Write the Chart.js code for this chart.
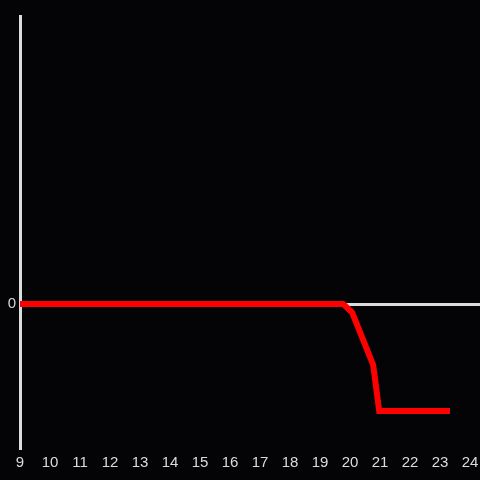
<!DOCTYPE html>
<html>
<head>
<meta charset="utf-8">
<script src="https://cdn.jsdelivr.net/npm/chart.js@4"></script>
<style>
  html, body { margin: 0; padding: 0; background: #040306; }
  #wrap { width: 480px; height: 480px; }
</style>
</head>
<body>
<div id="wrap"><canvas id="chart"></canvas></div>
<script>
// hours of day (x) and value (y)
const hours = [9, 19.77, 20.07, 20.77, 20.97, 23.33];
const values = [0, 0, -0.08, -0.57, -1.0, -1.0];
const yTicks = [0];

const bg = {
  id: 'bg',
  beforeDraw(chart) {
    const c = chart.ctx;
    c.save();
    c.fillStyle = '#040306';
    c.fillRect(0, 0, chart.width, chart.height);
    c.restore();
  }
};

new Chart(document.getElementById('chart'), {
  type: 'line',
  data: {
    datasets: [{
      data: hours.map((h, i) => ({x: h, y: values[i]})),
      borderColor: '#ff0000',
      borderWidth: 6,
      pointRadius: 0,
      tension: 0,
      clip: false
    }]
  },
  options: {
    responsive: true,
    maintainAspectRatio: false,
    animation: false,
    layout: {padding: {top: 16, right: 0}},
    plugins: {legend: {display: false}, tooltip: {enabled: false}},
    scales: {
      x: {
        type: 'linear',
        min: 9,
        max: 24.33,
        afterBuildTicks(scale) {
          const t = [];
          for (let h = 9; h <= 24; h++) t.push({value: h});
          scale.ticks = t;
        },
        grid: {display: false, drawTicks: false},
        border: {display: false},
        ticks: {
          color: '#dcdcdc',
          font: {family: 'Liberation Sans', size: 15},
          maxRotation: 0,
          autoSkip: false,
          padding: 6
        },
        afterFit(scale) {
          scale.height = 32;
          scale.paddingLeft = 0;
          scale.paddingRight = 0;
        }
      },
      y: {
        min: -1.346,
        max: 2.692,
        afterBuildTicks(scale) {
          scale.ticks = yTicks.map(v => ({value: v}));
        },
        grid: {
          color: ctx => ctx.tick && ctx.tick.value === 0 ? '#dcdcdc' : 'transparent',
          lineWidth: 3,
          drawTicks: false
        },
        border: {display: true, color: '#dcdcdc', width: 3},
        ticks: {
          color: '#d8d8d8',
          font: {family: 'Liberation Sans', size: 15},
          padding: 4
        },
        afterFit(scale) { scale.width = 20; }
      }
    }
  },
  plugins: [bg]
});
</script>
</body>
</html>
